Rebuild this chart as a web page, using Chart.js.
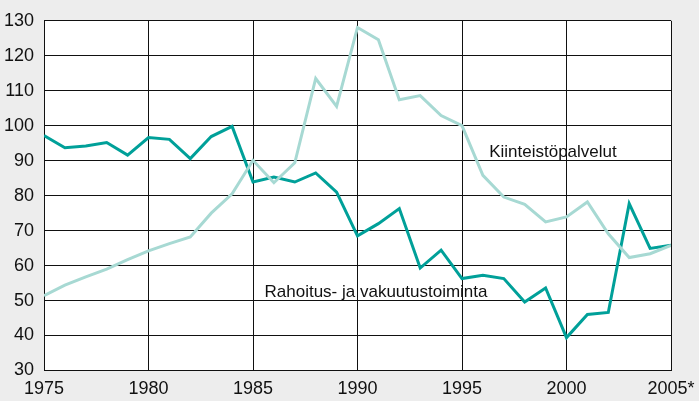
<!DOCTYPE html>
<html>
<head>
<meta charset="utf-8">
<script src="https://cdn.jsdelivr.net/npm/chart.js@4"></script>
<style>
  html, body { margin: 0; padding: 0; background: #ededed; }
  #wrap { width: 699px; height: 401px; position: relative; }
</style>
</head>
<body>
<div id="wrap"><canvas id="chart"></canvas></div>
<script>
const years = [1975, 1976, 1977, 1978, 1979, 1980, 1981, 1982, 1983, 1984,
  1985, 1986, 1987, 1988, 1989, 1990, 1991, 1992, 1993, 1994,
  1995, 1996, 1997, 1998, 1999, 2000, 2001, 2002, 2003, 2004, 2005];

const rahoitus = [97.2, 93.7, 94.2, 95.2, 91.6, 96.6, 96.1, 90.6, 96.9, 99.8,
  83.9, 85.3, 83.9, 86.5, 81.0, 68.5, 72.0, 76.3, 59.3, 64.4,
  56.3, 57.2, 56.3, 49.6, 53.6, 39.4, 46.0, 46.6, 77.7, 64.9, 65.8];

const kiinteisto = [51.4, 54.4, 56.8, 59.0, 61.7, 64.2, 66.3, 68.2, 75.0, 80.5,
  90.1, 83.7, 89.4, 113.5, 105.5, 128.1, 124.6, 107.4, 108.6, 102.9,
  100.0, 85.8, 79.6, 77.5, 72.5, 73.9, 78.2, 69.1, 62.3, 63.4, 65.8];

const seriesLabels = ["Rahoitus- ja vakuutustoiminta", "Kiinteistöpalvelut"];
// where each series name sits, in data units (year, value)
const labelPos = [[1985.55, 52.3], [1996.3, 92.3]];

const font = "Liberation Sans";

const toPoints = vals => vals.map((v, i) => ({ x: years[i], y: v }));

// white plot area + series names
const extras = {
  id: "extras",
  beforeDraw(chart) {
    const a = chart.chartArea, c = chart.ctx;
    c.save();
    c.fillStyle = "#ffffff";
    c.fillRect(a.left, a.top, a.right - a.left, a.bottom - a.top);
    c.restore();
  },
  afterDatasetsDraw(chart) {
    const c = chart.ctx, xs = chart.scales.x, ys = chart.scales.y;
    c.save();
    c.font = "17px '" + font + "'";
    c.fillStyle = "#111";
    c.textAlign = "left";
    c.textBaseline = "middle";
    seriesLabels.forEach((t, i) => {
      c.fillText(t, xs.getPixelForValue(labelPos[i][0]), ys.getPixelForValue(labelPos[i][1]));
    });
    c.restore();
  }
};

new Chart(document.getElementById("chart"), {
  type: "line",
  data: {
    datasets: [
      {
        label: seriesLabels[1],
        data: toPoints(kiinteisto),
        borderColor: "#a7d9d3",
        borderWidth: 3,
        pointRadius: 0,
        tension: 0
      },
      {
        label: seriesLabels[0],
        data: toPoints(rahoitus),
        borderColor: "#00a099",
        borderWidth: 3,
        pointRadius: 0,
        tension: 0
      }
    ]
  },
  options: {
    responsive: true,
    maintainAspectRatio: false,
    animation: false,
    layout: { padding: { top: 20, right: 28, left: 0, bottom: 0 } },
    plugins: { legend: { display: false }, tooltip: { enabled: false } },
    scales: {
      x: {
        type: "linear",
        min: 1975,
        max: 2005,
        afterFit(s) { s.height = 30.5; s.paddingRight = 0; s.paddingLeft = 0; },
        border: { color: "#111", width: 1 },
        grid: { color: "#111", lineWidth: 1, drawTicks: false },
        ticks: {
          stepSize: 5,
          padding: 8,
          color: "#111",
          font: { family: font, size: 18 },
          maxRotation: 0,
          callback: v => v === 2005 ? "2005*" : String(v)
        }
      },
      y: {
        min: 30,
        max: 130,
        afterFit(s) { s.width = 44; },
        border: { color: "#111", width: 1 },
        grid: { color: "#111", lineWidth: 1, drawTicks: false },
        ticks: {
          stepSize: 10,
          padding: 10,
          color: "#111",
          font: { family: font, size: 18 }
        }
      }
    }
  },
  plugins: [extras]
});
</script>
</body>
</html>
